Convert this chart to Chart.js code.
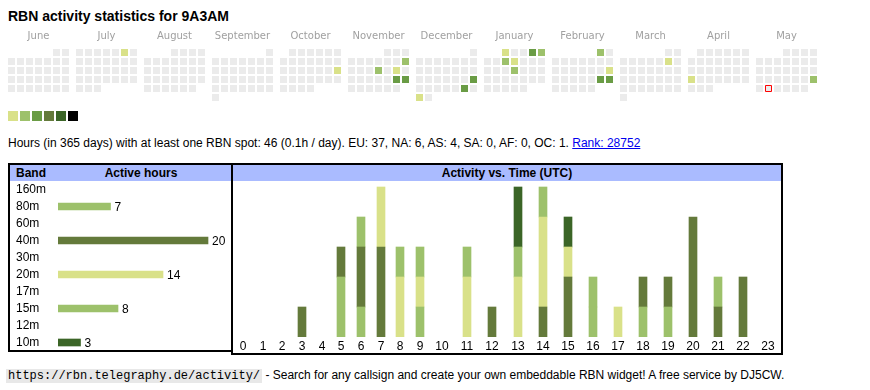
<!DOCTYPE html>
<html>
<head>
<meta charset="utf-8">
<title>RBN activity statistics for 9A3AM</title>
<script src="https://cdn.jsdelivr.net/npm/chart.js@4.4.1/dist/chart.umd.min.js"></script>
<style>
  body { margin: 0; width: 870px; height: 390px; background: #fff; position: relative; overflow: hidden;
         font-family: Arial, "Liberation Sans", sans-serif; color: #000; }
  .abs { position: absolute; }
  #title { left: 8px; top: 8px; font-size: 14px; font-weight: bold; line-height: 16px; white-space: nowrap; }
  #info { left: 8px; top: 136px; font-size: 12px; line-height: 14px; white-space: nowrap; }
  #info a { color: #0000ee; }
  .sq { position: absolute; top: 111px; width: 10px; height: 10px; }
  .box { position: absolute; border: 2px solid #000; box-sizing: border-box; }
  .head { position: absolute; left: 0; right: 0; top: 0; height: 16px; background: #aabbff;
          font-size: 12px; font-weight: bold; line-height: 16px; white-space: nowrap; }
  #footer { left: 6px; top: 368px; font-size: 12px; line-height: 14px; white-space: nowrap; }
  #footer code { font-family: "Liberation Mono", monospace; font-size: 12px; background: #e8e8e8; padding: 0 2px; }
</style>
</head>
<body>
<div id="title" class="abs">RBN activity statistics for 9A3AM</div>
<canvas id="calendar" class="abs" style="left:0;top:27px" width="870" height="80"></canvas>
<div id="legend"></div>
<div id="info" class="abs">Hours (in 365 days) with at least one RBN spot: 46 (0.1h / day). EU: 37, NA: 6, AS: 4, SA: 0, AF: 0, OC: 1. <a href="#">Rank: 28752</a></div>

<div class="box" style="left:8px;top:163px;width:225px;height:189px">
  <div class="head"><span class="abs" style="left:6px">Band</span><span class="abs" style="left:131px;transform:translateX(-50%)">Active hours</span></div>
</div>
<canvas id="bands" class="abs" style="left:16px;top:181px" width="215" height="170"></canvas>

<div class="box" style="left:231px;top:163px;width:552px;height:192px">
  <div class="head" style="text-align:center">Activity vs. Time (UTC)</div>
</div>
<canvas id="activity" class="abs" style="left:233px;top:181px" width="548" height="172"></canvas>

<div id="footer" class="abs"><code>https://rbn.telegraphy.de/activity/</code> - Search for any callsign and create your own embeddable RBN widget! A free service by DJ5CW.</div>

<script>
const FONT = 'Arial, "Liberation Sans", sans-serif';

// calendar: June 2024 .. May 2025, days with spots and their level
const months = ['June', 'July', 'August', 'September', 'October', 'November', 'December',
                'January', 'February', 'March', 'April', 'May'];
const firstMonth = [2024, 5];
const activeDays = ['2024-07-06', '2024-10-20', '2024-11-10', '2024-11-14', '2024-11-16', '2024-11-23',
                    '2024-11-24', '2024-12-22', '2024-12-28', '2024-12-30', '2025-01-01', '2025-01-04',
                    '2025-01-05', '2025-01-08', '2025-01-09', '2025-01-16', '2025-02-01', '2025-02-16',
                    '2025-02-22', '2025-02-23', '2025-03-08', '2025-04-21', '2025-05-25'];
const activeLevels = [1, 1, 2, 2, 1, 3, 3, 3, 3, 1, 1, 3, 2, 2, 1, 2, 2, 1, 3, 3, 1, 1, 2];
const today = '2025-05-27';
const levelColors = ['#ebebeb', '#d9e189', '#9dc16b', '#6a9c45', '#647a3b', '#3b6527', '#000000'];

// active hours per band
const bands = ['160m', '80m', '60m', '40m', '30m', '20m', '17m', '15m', '12m', '10m'];
const bandHours = [0, 7, 0, 20, 0, 14, 0, 8, 0, 3];
const bandColors = ['#d9e189', '#9dc16b', '#9dc16b', '#647a3b', '#647a3b', '#d9e189', '#d9e189', '#9dc16b', '#3b6527', '#3b6527'];

// activity vs. time, stacked from the bottom
const hours = [0, 1, 2, 3, 4, 5, 6, 7, 8, 9, 10, 11, 12, 13, 14, 15, 16, 17, 18, 19, 20, 21, 22, 23];
const act80 = [0, 0, 0, 0, 0, 2, 1, 0, 0, 1, 0, 0, 0, 0, 0, 0, 1, 0, 1, 1, 0, 0, 0, 0];
const act40 = [0, 0, 0, 1, 0, 1, 2, 3, 0, 0, 0, 0, 1, 0, 1, 2, 0, 0, 1, 1, 4, 1, 2, 0];
const act20 = [0, 0, 0, 0, 0, 0, 0, 2, 2, 1, 0, 2, 0, 2, 3, 1, 0, 1, 0, 0, 0, 0, 0, 0];
const act15 = [0, 0, 0, 0, 0, 0, 1, 0, 1, 1, 0, 1, 0, 1, 1, 0, 1, 0, 0, 0, 0, 1, 0, 0];
const act10 = [0, 0, 0, 0, 0, 0, 0, 0, 0, 0, 0, 0, 0, 2, 0, 1, 0, 0, 0, 0, 0, 0, 0, 0];

// legend squares under the calendar
levelColors.slice(1).forEach((c, i) => {
  const d = document.createElement('div');
  d.className = 'sq';
  d.style.left = (8 + 12 * i) + 'px';
  d.style.background = c;
  document.getElementById('legend').appendChild(d);
});

// --- calendar heat map ---
const MONTH_STEP = 68 / 9;   // month block pitch, in cells
const pad2 = n => String(n).padStart(2, '0');
const cells = [];
months.forEach((name, m) => {
  const yr = firstMonth[0] + Math.floor((firstMonth[1] + m) / 12);
  const mo = (firstMonth[1] + m) % 12;
  const first = (new Date(Date.UTC(yr, mo, 1)).getUTCDay() + 6) % 7;
  const days = new Date(Date.UTC(yr, mo + 1, 0)).getUTCDate();
  for (let d = 1; d <= days; d++) {
    const key = `${yr}-${pad2(mo + 1)}-${pad2(d)}`;
    const k = activeDays.indexOf(key);
    cells.push({
      x: m * MONTH_STEP + (first + d - 1) % 7,
      y: Math.floor((first + d - 1) / 7),
      level: k < 0 ? 0 : activeLevels[k],
      today: key === today
    });
  }
});

const monthLabels = {
  id: 'monthLabels',
  afterDraw(chart) {
    const { ctx, scales: { x, y } } = chart;
    ctx.save();
    ctx.font = '10px "DejaVu Sans", Verdana, sans-serif';
    ctx.fillStyle = '#a0a0a0';
    ctx.textAlign = 'center';
    ctx.textBaseline = 'alphabetic';
    months.forEach((name, m) => ctx.fillText(name, x.getPixelForValue(m * MONTH_STEP + 3), y.getPixelForValue(-1.47)));
    ctx.restore();
  }
};

new Chart(document.getElementById('calendar'), {
  type: 'scatter',
  data: {
    datasets: [{
      data: cells,
      pointStyle: 'rect',
      pointRadius: c => c.raw && c.raw.today ? 4.243 : 4.95,
      pointBackgroundColor: c => levelColors[c.raw ? c.raw.level : 0],
      pointBorderColor: '#ff0000',
      pointBorderWidth: c => c.raw && c.raw.today ? 1 : 0
    }]
  },
  options: {
    responsive: false, animation: false, events: [],
    layout: { autoPadding: false, padding: 0 },
    plugins: { legend: { display: false }, tooltip: { enabled: false } },
    scales: {
      x: { type: 'linear', display: false, bounds: 'data', min: -11.5 / 9, max: -11.5 / 9 + 870 / 9 },
      y: { type: 'linear', display: false, bounds: 'data', reverse: true, min: -25.5 / 9, max: -25.5 / 9 + 80 / 9 }
    }
  },
  plugins: [monthLabels]
});

// --- active hours per band ---
const valueLabels = {
  id: 'valueLabels',
  afterDatasetsDraw(chart) {
    const { ctx } = chart;
    const meta = chart.getDatasetMeta(0);
    ctx.save();
    ctx.font = '12px ' + FONT;
    ctx.fillStyle = '#000';
    ctx.textBaseline = 'middle';
    meta.data.forEach((bar, i) => {
      if (bandHours[i]) ctx.fillText(bandHours[i], bar.x + 4, bar.y + 1);
    });
    ctx.restore();
  }
};

new Chart(document.getElementById('bands'), {
  type: 'bar',
  data: { labels: bands, datasets: [{ data: bandHours.map(v => v || null), backgroundColor: bandColors, barThickness: 7 }] },
  options: {
    indexAxis: 'y', responsive: false, animation: false, events: [],
    plugins: { legend: { display: false }, tooltip: { enabled: false } },
    scales: {
      x: { display: false, bounds: 'data', min: 0, max: 173 / 7.5 },
      y: {
        grid: { display: false, drawTicks: false }, border: { display: false },
        ticks: { crossAlign: 'far', autoSkip: false, padding: 0, color: '#000', font: { size: 12, family: FONT } },
        afterFit(s) { s.width = 42; s.paddingTop = 0; s.paddingBottom = 0; }
      }
    }
  },
  plugins: [valueLabels]
});

// --- activity vs. time ---
// table-like columns: two-digit hour columns are wider
const colWeight = hours.map(h => String(h).length > 1 ? 1.276 : 1);
const colCenter = [];
let acc = 0;
colWeight.forEach(w => { colCenter.push(acc + w / 2); acc += w; });
const totalWeight = acc;

const actSeries = [
  { band: '80m', values: act80, color: '#9dc16b' },
  { band: '40m', values: act40, color: '#647a3b' },
  { band: '20m', values: act20, color: '#d9e189' },
  { band: '15m', values: act15, color: '#9dc16b' },
  { band: '10m', values: act10, color: '#3b6527' }
];

new Chart(document.getElementById('activity'), {
  type: 'bar',
  data: {
    datasets: actSeries.map(s => ({
      label: s.band,
      data: hours.map((h, i) => ({ x: colCenter[i], y: s.values[i] || null })),
      backgroundColor: s.color,
      barThickness: 8
    }))
  },
  options: {
    responsive: false, animation: false, events: [],
    plugins: { legend: { display: false }, tooltip: { enabled: false } },
    scales: {
      x: {
        type: 'linear', stacked: true, offset: false, alignToPixels: true, bounds: 'data',
        min: 0, max: totalWeight,
        grid: { display: false, drawTicks: false }, border: { display: false },
        afterBuildTicks(s) { s.ticks = colCenter.map(v => ({ value: v })); },
        ticks: { autoSkip: false, maxRotation: 0, padding: 2, color: '#000', font: { size: 12, family: FONT },
                 callback: (v, i) => hours[i] },
        afterFit(s) { s.height = 16; s.paddingLeft = 0; s.paddingRight = 0; }
      },
      y: { display: false, stacked: true, bounds: 'data', min: 0, max: 5.2 }
    }
  }
});
</script>
</body>
</html>
